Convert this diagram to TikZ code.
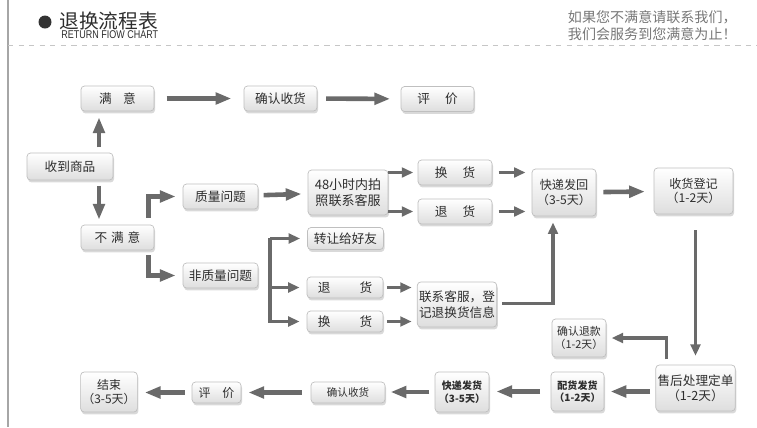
\documentclass[tikz,border=0pt]{standalone}
\usepackage{fontspec}
\setmainfont{Noto Sans CJK SC}
\newfontfamily\narrowfont[FakeStretch=0.8]{Liberation Sans}
\usetikzlibrary{arrows.meta, positioning, calc, shadows}

\definecolor{arrowGray}{HTML}{6A6A6A}
\definecolor{textGray}{HTML}{2E2E2E}
\definecolor{noteGray}{HTML}{777777}

\begin{document}
\begin{tikzpicture}[
		x=0.02cm, y=-0.02cm,
		% Styles
		flowBox/.style={draw=gray!50, top color=white, bottom color=gray!26, rounded corners=2pt, inner sep=1pt, align=center, text=textGray, font=\fontsize{7.2}{8.6}\selectfont, drop shadow={opacity=0.3, shadow xshift=0.6pt, shadow yshift=-1.4pt}},
		smallBox/.style={flowBox, font=\fontsize{6.2}{7.6}\selectfont},
		bigArrow/.style={-{Triangle[length=9pt, width=6.5pt]}, line width=2.6pt, draw=arrowGray},
		thinArrow/.style={-{Triangle[length=6.5pt, width=5.5pt]}, line width=1.8pt, draw=arrowGray}
		]
		
		\useasboundingbox (0,0) rectangle (757,427);
		
		% =========================================================
		% 1. HEADER
		% =========================================================
		\draw[gray!70, line width=0.8pt] (8,0) -- (8,427);
		\draw[gray!45, dashed, line width=0.5pt] (8,45) -- (757,45);
		\fill[black!80] (45,22) circle (6.5);
		\node[anchor=west, inner sep=0pt, text=textGray, font=\fontsize{11.2}{12}\selectfont] (Title) at (59,21.5) {退换流程表};
		\node[anchor=west, inner sep=0pt, text=textGray, font=\narrowfont\fontsize{6.4}{7}\selectfont] (SubTitle) at (61,34.5) {RETURN FIOW CHART};
		\node[anchor=east, inner sep=0pt, text=noteGray, font=\fontsize{8}{9}\selectfont] (NoteA) at (737,17) {如果您不满意请联系我们，};
		\node[anchor=east, inner sep=0pt, text=noteGray, font=\fontsize{8}{9}\selectfont] (NoteB) at (737,34) {我们会服务到您满意为止！};
		
		% =========================================================
		% 2. RECEIVING AND SATISFIED BRANCH
		% =========================================================
		\node[flowBox, minimum width=1.72cm, minimum height=0.54cm] (ShouDao) at (70,166.5) {收到商品};
		\node[flowBox, minimum width=1.46cm, minimum height=0.5cm] (ManYi) at (117.5,98.5) {满\hspace{0.9em}意};
		\node[flowBox, minimum width=1.46cm, minimum height=0.5cm] (QueRenTop) at (280.5,98.5) {确认收货};
		\node[flowBox, minimum width=1.46cm, minimum height=0.5cm] (PingJiaTop) at (437.5,99) {评\hspace{1.2em}价};
		\node[flowBox, minimum width=1.46cm, minimum height=0.5cm] (BuManYi) at (117.5,237.5) {不\hspace{0.3em}满\hspace{0.3em}意};
		
		\coordinate (StemX) at (99,0);
		\draw[bigArrow, shorten <=3pt] (ShouDao.north -| StemX) -- ($(ManYi.south -| StemX)+(0,6)$);
		\draw[bigArrow, shorten <=3pt] (ShouDao.south -| StemX) -- ($(BuManYi.north -| StemX)+(0,-5)$);
		\draw[bigArrow, shorten <=7pt, shorten >=7pt] (ManYi) -- (QueRenTop);
		\draw[bigArrow, shorten <=5pt, shorten >=6pt] (QueRenTop) -- (PingJiaTop);
		
		% =========================================================
		% 3. QUALITY PROBLEM
		% =========================================================
		\node[flowBox, minimum width=1.5cm, minimum height=0.5cm] (ZhiLiang) at (220.5,196.5) {质量问题};
		\node[flowBox, minimum width=1.6cm, minimum height=0.9cm, font=\fontsize{7.4}{9}\selectfont] (Photo48) at (348,192.5) {48小时内拍\\照联系客服};
		\node[flowBox, minimum width=1.48cm, minimum height=0.5cm] (HuanA) at (455,172.5) {换\hspace{1.2em}货};
		\node[flowBox, minimum width=1.48cm, minimum height=0.5cm] (TuiA) at (455,211.5) {退\hspace{1.2em}货};
		\node[flowBox, minimum width=1.28cm, minimum height=0.94cm, font=\fontsize{6.9}{8.4}\selectfont] (KuaiDiBack) at (564,192.5) {快递发回\\（3-5天）};
		\node[flowBox, minimum width=1.58cm, minimum height=0.92cm, font=\fontsize{6.9}{8.4}\selectfont] (ShouHuo) at (693.5,191) {收货登记\\（1-2天）};
		
		\draw[bigArrow] ($(BuManYi.north east)+(-6,-7)$) |- ($(ZhiLiang.west)+(-7,0)$);
		\draw[bigArrow, shorten <=3pt, shorten >=3.5pt] (ZhiLiang) -- (Photo48);
		\draw[thinArrow, shorten >=2.5pt] (Photo48.east |- HuanA) -- (HuanA.west);
		\draw[thinArrow, shorten >=2.5pt] (Photo48.east |- TuiA) -- (TuiA.west);
		\draw[thinArrow, shorten <=3.5pt, shorten >=3.5pt] (HuanA.east) -- (KuaiDiBack.west |- HuanA);
		\draw[thinArrow, shorten <=3.5pt, shorten >=3.5pt] (TuiA.east) -- (KuaiDiBack.west |- TuiA);
		\draw[bigArrow, shorten <=4pt, shorten >=5pt] (KuaiDiBack) -- (ShouHuo);
		
		% =========================================================
		% 4. NON-QUALITY PROBLEM
		% =========================================================
		\node[flowBox, minimum width=1.5cm, minimum height=0.5cm] (FeiZhiLiang) at (220.5,275.5) {非质量问题};
		\node[flowBox, minimum width=1.52cm, minimum height=0.44cm] (ZhuanRang) at (345.5,238.5) {转让给好友};
		\node[flowBox, minimum width=1.52cm, minimum height=0.42cm] (TuiB) at (345,287.5) {退\hspace{2.3em}货};
		\node[flowBox, minimum width=1.52cm, minimum height=0.42cm] (HuanB) at (345,321.5) {换\hspace{2.3em}货};
		\node[flowBox, minimum width=1.52cm, minimum height=0.9cm, font=\fontsize{7.2}{8.8}\selectfont] (LianXi) at (457,304.5) {联系客服，登\\记退换货信息};
		
		\draw[bigArrow] ($(BuManYi.south east)+(-6,5)$) |- ($(FeiZhiLiang.west)+(-7,0)$);
		\coordinate (ForkX) at (270,0);
		\draw[draw=arrowGray, line width=2.2pt] ($(ZhuanRang.west -| ForkX)+(0,-1)$) -- ($(HuanB.west -| ForkX)+(0,1)$);
		\draw[thinArrow, shorten >=4pt] (ZhuanRang.west -| ForkX) -- (ZhuanRang.west);
		\draw[thinArrow, shorten >=4pt] (TuiB.west -| ForkX) -- (TuiB.west);
		\draw[thinArrow, shorten >=4pt] (HuanB.west -| ForkX) -- (HuanB.west);
		\draw[thinArrow, shorten <=2pt, shorten >=3pt] (TuiB.east) -- (LianXi.west |- TuiB);
		\draw[thinArrow, shorten <=2pt, shorten >=3pt] (HuanB.east) -- (LianXi.west |- HuanB);
		\draw[thinArrow, shorten <=3pt, shorten >=3.5pt] ($(LianXi.east)+(0,-1)$) -| ($(KuaiDiBack.south)+(-11,0)$);
		
		% =========================================================
		% 5. AFTER-SALES PROCESSING
		% =========================================================
		\node[flowBox, minimum width=1.58cm, minimum height=0.92cm, font=\fontsize{7.2}{8.8}\selectfont] (ShouHou) at (695.5,388) {售后处理定单\\（1-2天）};
		\node[smallBox, minimum width=1.08cm, minimum height=0.76cm] (TuiKuan) at (579,338) {确认退款\\（1-2天）};
		\node[smallBox, minimum width=1.06cm, minimum height=0.78cm, font=\bfseries\fontsize{5.7}{7.2}\selectfont] (PeiHuo) at (577.5,391.5) {配货发货\\（1-2天）};
		\node[smallBox, minimum width=1.08cm, minimum height=0.8cm, font=\bfseries\fontsize{5.7}{7.2}\selectfont] (KuaiDiSend) at (462,392) {快递发货\\（3-5天）};
		\node[flowBox, minimum width=1.48cm, minimum height=0.42cm, font=\fontsize{6}{7}\selectfont] (QueRenBot) at (348,392.5) {确认收货};
		\node[flowBox, minimum width=0.98cm, minimum height=0.42cm, font=\fontsize{6.8}{8}\selectfont] (PingJiaBot) at (216.5,392.5) {评\hspace{1em}价};
		\node[smallBox, minimum width=1.08cm, minimum height=0.8cm, font=\fontsize{6.8}{8.2}\selectfont] (JieShu) at (109,392) {结束\\（3-5天）};
		
		\draw[thinArrow, shorten <=9pt, shorten >=5pt] ($(ShouHuo.south)+(2,0)$) -- (ShouHou.north);
		\draw[thinArrow, line width=2.2pt, shorten <=3pt, shorten >=3pt] ($(ShouHou.north)+(-29,0)$) |- (TuiKuan.east);
		\draw[bigArrow, shorten <=3pt, shorten >=3.5pt] (ShouHou.west |- PeiHuo) -- (PeiHuo.east);
		\draw[bigArrow, shorten <=6pt, shorten >=4pt] (PeiHuo.west) -- (KuaiDiSend.east |- PeiHuo);
		\draw[bigArrow, shorten <=3pt, shorten >=3pt] (KuaiDiSend.west) -- (QueRenBot.east |- KuaiDiSend);
		\draw[bigArrow, shorten <=5pt, shorten >=4pt] (QueRenBot.west) -- (PingJiaBot.east);
		\draw[bigArrow, shorten <=4pt, shorten >=4pt] (PingJiaBot.west) -- (JieShu.east |- PingJiaBot);
		
	\end{tikzpicture}
\end{document}
